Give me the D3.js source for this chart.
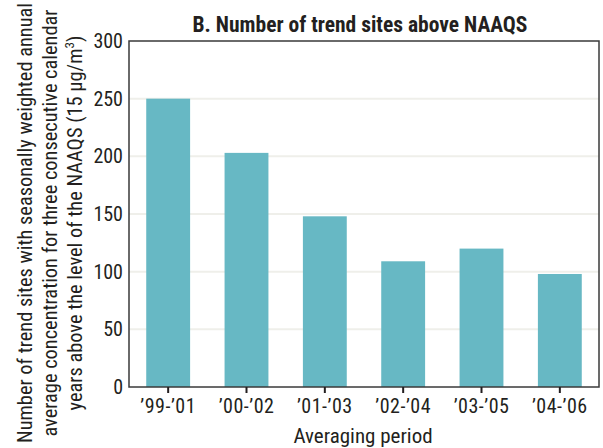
<!DOCTYPE html>
<html>
<head>
<meta charset="utf-8">
<script src="https://cdn.jsdelivr.net/npm/d3@7"></script>
<style>
body { margin: 0; background: #fff; }
text { font-family: "Roboto Condensed", "Liberation Sans", sans-serif; fill: #231f20; }
</style>
</head>
<body>
<svg id="chart"></svg>
<script>
var periods = ["\u201999-\u201901", "\u201900-\u201902", "\u201901-\u201903", "\u201902-\u201904", "\u201903-\u201905", "\u201904-\u201906"];
var sites = [250, 203, 148, 109, 120, 98];
var yTicks = [0, 50, 100, 150, 200, 250, 300];

var width = 603,
    height = 448;
var margin = {top: 41, right: 4, bottom: 61, left: 129};

var svg = d3.select("#chart").attr("width", width).attr("height", height);

var x = d3.scaleBand().domain(periods)
	.range([margin.left, width - margin.right])
	.paddingInner(0.44).paddingOuter(0.22);
var y = d3.scaleLinear().domain([0, 300]).range([height - margin.bottom, margin.top]);

// gridlines
svg.append("g").selectAll("line").data(yTicks.filter(function(d){ return d > 0 && d < 300; }))
	.enter().append("line")
	.attr("x1", margin.left).attr("x2", width - margin.right)
	.attr("y1", function(d){ return y(d); }).attr("y2", function(d){ return y(d); })
	.attr("stroke", "#efefea").attr("stroke-width", 2);

// bars
svg.append("g").selectAll("rect").data(periods)
	.enter().append("rect")
	.attr("x", function(d){ return x(d); })
	.attr("width", x.bandwidth())
	.attr("y", function(d, i){ return y(sites[i]); })
	.attr("height", function(d, i){ return y(0) - y(sites[i]); })
	.attr("fill", "#67b8c4");

// frame
svg.append("rect")
	.attr("x", margin.left).attr("y", margin.top)
	.attr("width", width - margin.right - margin.left)
	.attr("height", height - margin.bottom - margin.top)
	.attr("fill", "none").attr("stroke", "#3a3a3a").attr("stroke-width", 1.5);

// x axis
var xAxis = svg.append("g").attr("transform", "translate(0," + y(0) + ")")
	.call(d3.axisBottom(x).tickSize(6).tickPadding(6));
xAxis.select(".domain").remove();
xAxis.selectAll(".tick line").attr("stroke", "#231f20").attr("stroke-width", 2);
xAxis.selectAll(".tick text").style("font-size", "20px").style("letter-spacing", "0.5px").attr("fill", "#231f20");

// y axis
var yAxis = svg.append("g").attr("transform", "translate(" + margin.left + ",0)")
	.call(d3.axisLeft(y).tickValues(yTicks).tickSize(0).tickPadding(6));
yAxis.select(".domain").remove();
yAxis.selectAll(".tick text").style("font-size", "20px").attr("fill", "#231f20");

// title
svg.append("text").text("B. Number of trend sites above NAAQS")
	.attr("x", 360).attr("y", 31.5)
	.attr("text-anchor", "middle").style("font-size", "21.5px").style("font-weight", "bold");

// x title
svg.append("text").text("Averaging period")
	.attr("x", 363).attr("y", 443)
	.attr("text-anchor", "middle").style("font-size", "21px");

// y title
var yTitle = svg.append("text")
	.attr("transform", "translate(0,223) rotate(-90)")
	.attr("text-anchor", "middle").style("font-size", "20.4px");
yTitle.append("tspan").attr("x", 0).attr("y", 32).text("Number of trend sites with seasonally weighted annual");
yTitle.append("tspan").attr("x", 0).attr("y", 57).text("average concentration for three consecutive calendar");
var l3 = yTitle.append("tspan").attr("x", 0).attr("y", 82).text("years above the level of the NAAQS (15 \u00b5g/m");
l3.append("tspan").attr("dy", -8).style("font-size", "13px").text("3");
l3.append("tspan").attr("dy", 8).text(")");
</script>
</body>
</html>
